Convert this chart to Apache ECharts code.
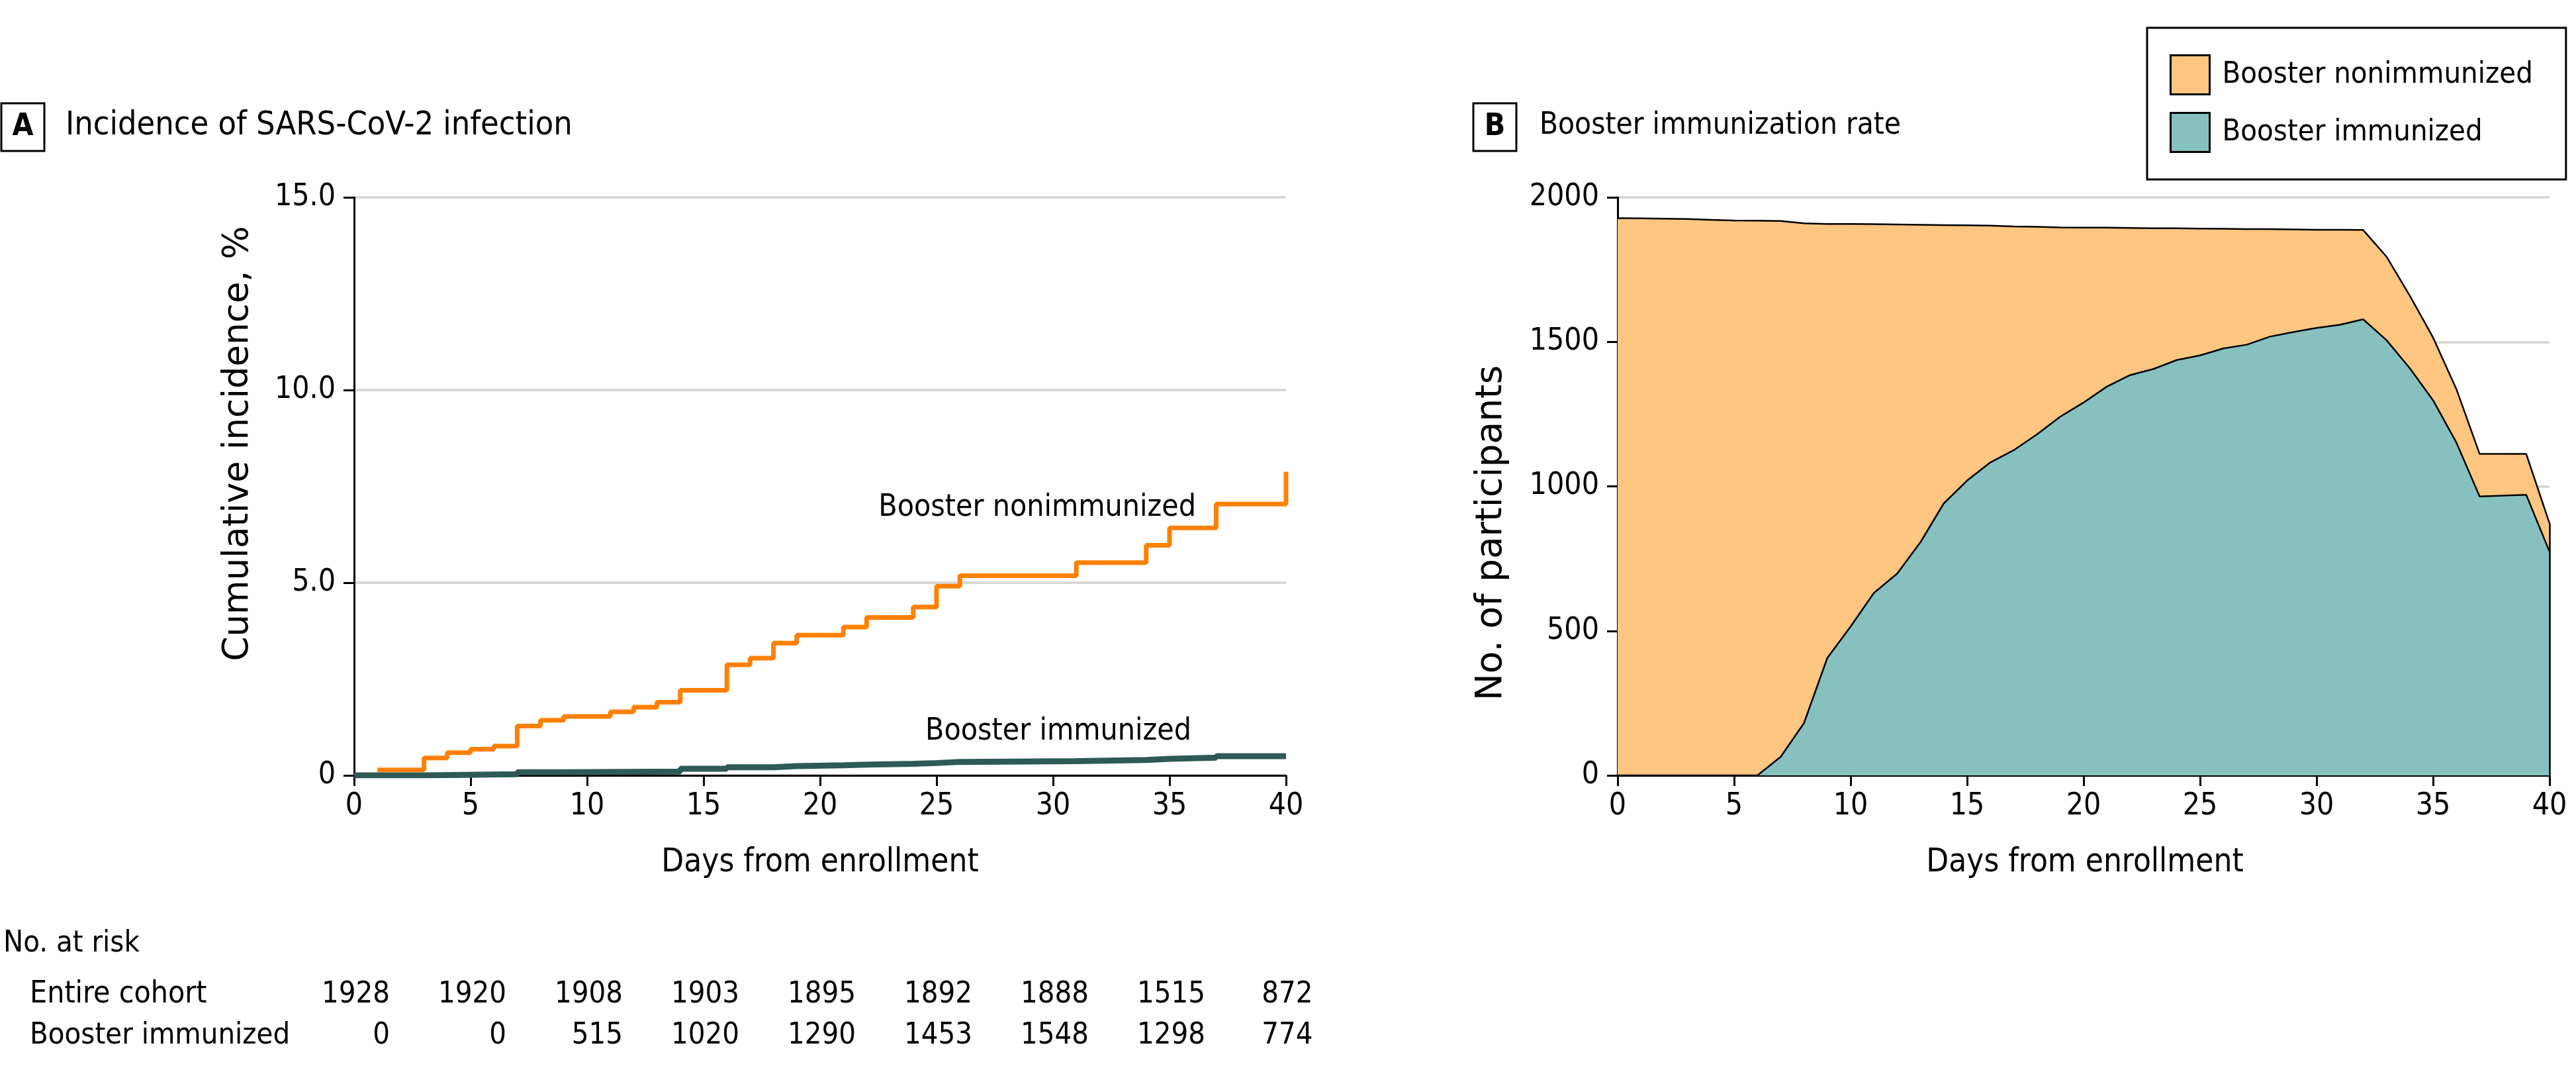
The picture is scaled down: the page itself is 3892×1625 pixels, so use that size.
<!DOCTYPE html>
<html><head><meta charset="utf-8">
<script src="https://cdn.jsdelivr.net/npm/echarts@6/dist/echarts.min.js"></script>
<style>html,body{margin:0;padding:0;background:#fff}#c{width:3892px;height:1625px}</style>
</head><body><div id="c"></div>
<script>
// ---------- DATA ----------
const riskDays = [0, 5, 10, 15, 20, 25, 30, 35, 40];
const entireCohortAtRisk = [1928, 1920, 1908, 1903, 1895, 1892, 1888, 1515, 872];
const boosterImmunizedAtRisk = [0, 0, 515, 1020, 1290, 1453, 1548, 1298, 774];

// Panel A: cumulative incidence (%) step curves
const nonImmDays = [1, 3, 4, 5, 6, 7, 8, 9, 11, 12, 13, 14, 16, 17, 18, 19, 21, 22, 24, 25, 26, 31, 34, 35, 37, 40];
const nonImmInc  = [0.14, 0.45, 0.59, 0.68, 0.76, 1.28, 1.43, 1.53, 1.65, 1.77, 1.90, 2.21, 2.87, 3.04, 3.43, 3.64, 3.85, 4.10, 4.37, 4.91, 5.18, 5.52, 5.97, 6.42, 7.04, 7.88];
const immDays = [0, 3, 7, 9, 14, 16, 18, 19, 21, 22, 24, 25, 26, 31, 34, 35, 37, 40];
const immInc  = [0, 0.03, 0.08, 0.10, 0.17, 0.21, 0.24, 0.26, 0.28, 0.30, 0.32, 0.35, 0.37, 0.40, 0.43, 0.46, 0.50, 0.50];

// Panel B: participants by day
const bDays = [0,1,2,3,4,5,6,7,8,9,10,11,12,13,14,15,16,17,18,19,20,21,22,23,24,25,26,27,28,29,30,31,32,33,34,35,36,37,38,39,40];
const totalParticipants = [1928,1927,1926,1925,1922,1920,1919,1918,1910,1908,1908,1907,1906,1905,1904,1903,1902,1899,1898,1896,1895,1895,1894,1893,1893,1892,1891,1890,1890,1889,1888,1888,1887,1795,1660,1515,1337,1112,1112,1112,872];
const immunizedParticipants = [0,0,0,0,0,0,0,64,181,406,515,631,698,807,941,1020,1083,1125,1180,1241,1290,1345,1385,1406,1437,1453,1477,1490,1518,1534,1548,1559,1578,1506,1409,1298,1152,965,968,971,774];

const xTicks = [0, 40, 5];
const yTicksA = [0, 15, 5];
const yTicksB = [0, 2000, 500];

// ---------- STYLE ----------
const FF = '"DejaVu Sans Condensed", "Liberation Sans Narrow", sans-serif';
const FFW = '"DejaVu Sans", sans-serif';
const ORANGE = '#FF8000', DARK = '#2E5A56', FILL_O = '#FEC680', FILL_T = '#86C1BF', GRIDC = '#D9D9D9';

const zip = (a, b) => a.map((v, i) => [v, b[i]]);

function xAxisCfg(idx) {
  return {
    gridIndex: idx, type: 'value', min: xTicks[0], max: xTicks[1], interval: xTicks[2],
    axisLine: { show: true, lineStyle: { color: '#000', width: 3 } },
    axisTick: { show: true, length: 16, lineStyle: { color: '#000', width: 3 } },
    axisLabel: { color: '#000', fontSize: 46, fontFamily: FF, margin: 24 },
    splitLine: { show: false }
  };
}
function yAxisCfg(idx, t, fmt) {
  return {
    gridIndex: idx, type: 'value', min: t[0], max: t[1], interval: t[2],
    axisLine: { show: true, lineStyle: { color: '#000', width: 3 } },
    axisTick: { show: true, length: 16, lineStyle: { color: '#000', width: 3 } },
    axisLabel: { color: '#000', fontSize: 46, fontFamily: FF, margin: 28, formatter: fmt },
    splitLine: { show: true, lineStyle: { color: GRIDC, width: 4 } }
  };
}

const lastB = bDays.length - 1;
const chart = echarts.init(document.getElementById('c'), null, { renderer: 'canvas' });
chart.setOption({
  backgroundColor: '#fff',
  animation: false,
  grid: [
    { left: 535, top: 298, width: 1408, height: 873 },
    { left: 2444, top: 298, width: 1408, height: 873 }
  ],
  xAxis: [xAxisCfg(0), xAxisCfg(1)],
  yAxis: [
    yAxisCfg(0, yTicksA, v => v === 0 ? '0' : v.toFixed(1)),
    yAxisCfg(1, yTicksB, v => String(v))
  ],
  legend: {
    left: 3244, top: 42, orient: 'vertical',
    padding: [40, 50, 40, 34],
    borderColor: '#000', borderWidth: 3,
    itemWidth: 59, itemHeight: 59, itemGap: 25,
    icon: 'rect',
    selectedMode: false,
    textStyle: { color: '#000', fontSize: 45, fontFamily: FF, padding: [0, 0, 0, 14] },
    data: [
      { name: 'Booster nonimmunized', itemStyle: { color: FILL_O, borderColor: '#000', borderWidth: 3 } },
      { name: 'Booster immunized', itemStyle: { color: FILL_T, borderColor: '#000', borderWidth: 3 } }
    ]
  },
  series: [
    { name: 'Incidence, booster immunized', type: 'line', xAxisIndex: 0, yAxisIndex: 0, step: 'end',
      showSymbol: false, data: zip(immDays, immInc), lineStyle: { color: DARK, width: 9 }, z: 3 },
    { name: 'Incidence, booster nonimmunized', type: 'line', xAxisIndex: 0, yAxisIndex: 0, step: 'end',
      showSymbol: false, data: zip(nonImmDays, nonImmInc), lineStyle: { color: ORANGE, width: 7 }, z: 2 },
    { name: 'Booster nonimmunized', type: 'line', xAxisIndex: 1, yAxisIndex: 1,
      showSymbol: false, data: zip(bDays, totalParticipants),
      itemStyle: { color: FILL_O },
      lineStyle: { color: '#000', width: 2.5 }, areaStyle: { color: FILL_O, opacity: 1 }, z: 2,
      markLine: {
        silent: true, symbol: 'none', label: { show: false },
        lineStyle: { color: '#000', width: 2.5, type: 'solid' },
        data: [[{ coord: [bDays[lastB], 0] }, { coord: [bDays[lastB], totalParticipants[lastB]] }]]
      } },
    { name: 'Booster immunized', type: 'line', xAxisIndex: 1, yAxisIndex: 1,
      showSymbol: false, data: zip(bDays, immunizedParticipants),
      itemStyle: { color: FILL_T },
      lineStyle: { color: '#000', width: 2.5 }, areaStyle: { color: FILL_T, opacity: 1 }, z: 3 }
  ]
});

function txt(x, y, s, size, opts) {
  opts = opts || {};
  return {
    type: 'text', x: x, y: y, rotation: opts.rot || 0, z: 100,
    style: {
      text: s, fill: '#000', fontSize: size, fontFamily: opts.ff || FF, fontWeight: opts.bold ? 'bold' : 'normal',
      align: opts.align || 'left', verticalAlign: 'middle',
      textAlign: opts.align || 'left', textVerticalAlign: 'middle'
    }
  };
}

const els = [];
// Panel labels
els.push({ type: 'rect', shape: { x: 2, y: 156, width: 65, height: 72 }, style: { fill: 'none', stroke: '#000', lineWidth: 3 }, z: 100 });
els.push(txt(34.5, 192, 'A', 46, { bold: true, align: 'center' }));
els.push(txt(99, 190, 'Incidence of SARS-CoV-2 infection', 50));
els.push({ type: 'rect', shape: { x: 2226, y: 156, width: 65, height: 72 }, style: { fill: 'none', stroke: '#000', lineWidth: 3 }, z: 100 });
els.push(txt(2258.5, 192, 'B', 46, { bold: true, align: 'center' }));
els.push(txt(2326, 190, 'Booster immunization rate', 45.5));
// Axis titles
els.push(txt(1239, 1303, 'Days from enrollment', 49, { align: 'center' }));
els.push(txt(3150, 1303, 'Days from enrollment', 49, { align: 'center' }));
els.push(txt(360, 670, 'Cumulative incidence, %', 53, { align: 'center', rot: Math.PI / 2, ff: FFW }));
els.push(txt(2254, 805, 'No. of participants', 55, { align: 'center', rot: Math.PI / 2, ff: FFW }));
// Curve labels in panel A
els.push(txt(1807, 767, 'Booster nonimmunized', 46, { align: 'right' }));
els.push(txt(1800, 1105, 'Booster immunized', 46, { align: 'right' }));
// At-risk table: each column right-aligned, column centred on its tick
els.push(txt(5, 1425, 'No. at risk', 45));
els.push(txt(45, 1502, 'Entire cohort', 46));
els.push(txt(45, 1564, 'Booster immunized', 45));
const DIGIT = 27;
riskDays.forEach((d, i) => {
  const px = chart.convertToPixel({ xAxisIndex: 0 }, d);
  const a = String(entireCohortAtRisk[i]), b = String(boosterImmunizedAtRisk[i]);
  const right = px + Math.max(a.length, b.length) * DIGIT / 2;
  els.push(txt(right, 1502, a, 45, { align: 'right' }));
  els.push(txt(right, 1564, b, 45, { align: 'right' }));
});
chart.setOption({ graphic: { elements: els } });
</script>
</body></html>
